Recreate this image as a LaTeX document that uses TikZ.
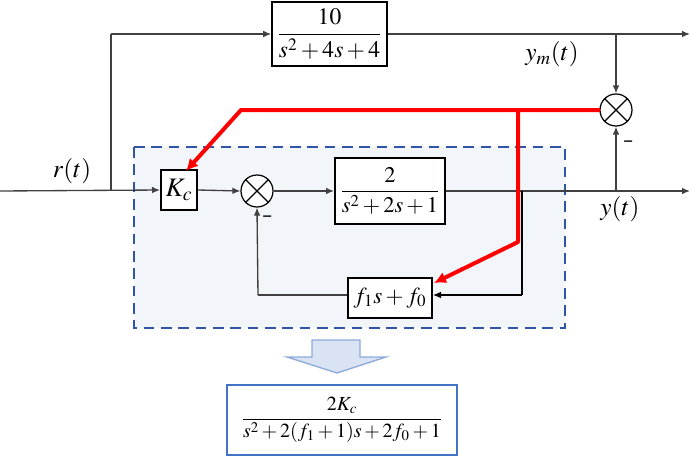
\documentclass[tikz,border=0pt]{standalone}
\usepackage{amsmath}
\usepackage{graphicx}
\usepackage{mathptmx}
\usetikzlibrary{arrows.meta}
\definecolor{panelfill}{HTML}{F2F5FA}
\definecolor{panelline}{HTML}{2F55A4}
\definecolor{bigarrowfill}{HTML}{DAE3F3}
\definecolor{bigarrowline}{HTML}{8EAADB}
\definecolor{resultline}{HTML}{4472C4}
\definecolor{linegray}{HTML}{404040}
\begin{document}
\begin{tikzpicture}[x=0.75pt,y=-0.75pt,
  every node/.style={font=\fontsize{15}{18}\selectfont},
  block/.style={draw,line width=1.5pt,fill=white,inner sep=0pt},
  sumjunction/.style={circle,draw,line width=0.9pt,minimum size=24pt,inner sep=0pt,fill=white},
  sig/.style={draw=linegray,line width=1pt,-{Latex[length=6pt,width=5pt]}},
  plain/.style={draw=linegray,line width=1pt},
  redarrow/.style={draw=red,line width=3pt,-{Latex[length=9pt,width=9pt]}},
  siglabel/.style={font=\fontsize{19}{22}\selectfont},
  minus/.style={font=\bfseries\fontsize{24}{26}\selectfont}
]
\useasboundingbox (0,0) rectangle (694,457);

% controller panel
\draw[panelline,fill=panelfill,line width=2.2pt,dash pattern=on 8pt off 5pt]
  (134,147) rectangle (565,328);

% blocks
\node[block,minimum width=86pt,minimum height=48pt] (G2) at (329.5,34)
  {\scalebox{1.18}{$\displaystyle\frac{10}{s^{2}+4s+4}$}};
\node[block,minimum width=27pt,minimum height=30pt,font=\fontsize{20}{22}\selectfont] (Kc) at (179,190) {$K_c$};
\node[sumjunction] (S1) at (257,191) {};
\node[block,minimum width=82.5pt,minimum height=49.5pt] (G1) at (390,191)
  {\scalebox{1.12}{$\displaystyle\frac{2}{s^{2}+2s+1}$}};
\node[block,minimum width=63pt,minimum height=30pt] (F) at (390,298) {\scalebox{1.15}{$f_1 s+f_0$}};
\node[sumjunction] (S2) at (616,110) {};

% crosses in the summing junctions
\foreach \s in {S1,S2}{
  \draw[line width=0.9pt] (\s.45) -- (\s.225) (\s.135) -- (\s.315);
}

% named points on the signal paths
\coordinate (in) at (0,191);
\coordinate (rb) at (111,191);
\coordinate (rt) at (111,34);
\coordinate (ymout) at (690,34);
\coordinate (ymtap) at (616,34);
\coordinate (yout) at (690,191);
\coordinate (ytap) at (616,191);
\coordinate (fbt) at (522,191);
\coordinate (fbb) at (522,295);
\coordinate (fbl) at (258,295);

% signal lines
\draw[sig] (in) -- (Kc.west);
\draw[plain] (rb) -- (rt);
\draw[sig] (rt) -- (G2.west);
\draw[sig] (G2.east) -- (ymout);
\draw[sig] (ymtap) -- (S2.north);
\draw[sig] (Kc.east) -- (S1.west);
\draw[sig] (S1.east) -- (G1.west);
\draw[sig] (G1.east) -- (yout);
\draw[sig] (ytap) -- (S2.south);
\draw[line width=0.8pt] (fbt) -- (fbb);
\draw[line width=0.8pt,-{Latex[length=6pt,width=5pt]}] (fbb) -- (F.east |- fbb);
\draw[plain] (F.west |- fbl) -- (fbl);
\draw[sig] (fbl) -- (S1.south);

% signs and signal names
\node[minus] (m1) at (268,220) {-};
\node[minus] (m2) at (629,145) {-};
\node[siglabel] (rlab) at (72,171) {$r(t)$};
\node[siglabel] (ymlab) at (552,54) {$y_{m}(t)$};
\node[siglabel] (ylab) at (620,209) {$y(t)$};

% tuning paths from the error signal
\coordinate (ea) at (600,110);
\coordinate (eb) at (241,110);
\coordinate (ec) at (518,110);
\coordinate (ed) at (518,242);
\coordinate (kt) at (186,171);
\coordinate (ft) at (434,283);
\draw[redarrow,line join=round] (ea) -- (eb) -- (kt);
\draw[redarrow,line join=round] (ec) -- (ed) -- (ft);

% reduction arrow
\draw[bigarrowline,fill=bigarrowfill,line width=1pt]
  (312,340) -- (360,340) -- (360,357) -- (386,357) -- (337,373) -- (287,357) -- (312,357) -- cycle;

% closed-loop result
\node[draw=resultline,line width=1.5pt,fill=white,minimum width=173pt,minimum height=53pt,inner sep=2pt] (R) at (342,420)
  {$\dfrac{2K_c}{s^{2}+2(f_1+1)s+2f_0+1}$};
\end{tikzpicture}
\end{document}
